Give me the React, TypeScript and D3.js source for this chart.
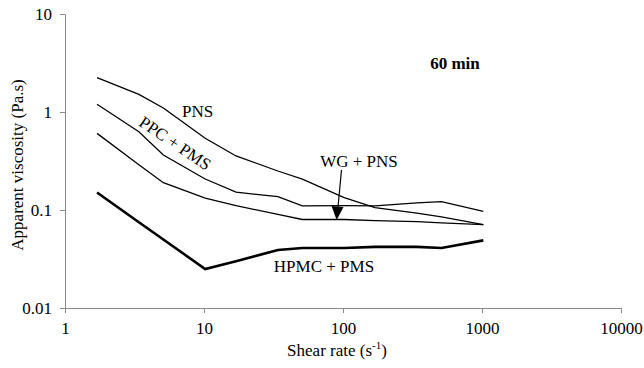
import { useEffect, useRef } from "react";
import * as d3 from "d3";

const width = 644;
const height = 368;
const margin = { top: 14, right: 23, bottom: 60, left: 65 };
const font = '"Liberation Serif", "Times New Roman", serif';

// shear rate (s-1)
const shearRates = [1.7, 3.4, 5.1, 10.2, 17, 34, 51, 102, 170, 340, 511, 1022];

// apparent viscosity (Pa.s) at 60 min
const pnsValues = [2.24, 1.51, 1.1, 0.54, 0.356, 0.25, 0.207, 0.134, 0.106, 0.093, 0.085, 0.071];
const ppcPmsValues = [1.2, 0.63, 0.364, 0.207, 0.152, 0.137, 0.11, 0.111, 0.11, 0.118, 0.122, 0.097];
const wgPnsValues = [0.605, 0.29, 0.19, 0.132, 0.111, 0.09, 0.08, 0.08, 0.078, 0.076, 0.074, 0.071];
const hpmcPmsValues = [0.151, 0.075, 0.05, 0.025, 0.03, 0.039, 0.041, 0.041, 0.042, 0.042, 0.041, 0.049];

const xTicks = [1, 10, 100, 1000, 10000];
const yTicks = [0.01, 0.1, 1, 10];

const series = [
  { name: "PNS", values: pnsValues, strokeWidth: 1.3 },
  { name: "PPC + PMS", values: ppcPmsValues, strokeWidth: 1.3 },
  { name: "WG + PNS", values: wgPnsValues, strokeWidth: 1.3 },
  { name: "HPMC + PMS", values: hpmcPmsValues, strokeWidth: 2.6 },
];

export default function App() {
  const svgRef = useRef<SVGSVGElement | null>(null);

  useEffect(() => {
    if (!svgRef.current) return;

    const svg = d3.select(svgRef.current);

    const x = d3
      .scaleLog()
      .domain([1, 10000])
      .range([margin.left, width - margin.right]);

    const y = d3
      .scaleLog()
      .domain([0.01, 10])
      .range([height - margin.bottom, margin.top]);

    // x 軸
    svg
      .select<SVGGElement>(".x-axis")
      .attr("transform", `translate(0, ${height - margin.bottom})`)
      .call(
        d3
          .axisBottom(x)
          .tickValues(xTicks)
          .tickFormat((d) => String(d))
          .tickSizeInner(5)
          .tickSizeOuter(0)
          .tickPadding(9),
      );

    // y 軸
    svg
      .select<SVGGElement>(".y-axis")
      .attr("transform", `translate(${margin.left}, 0)`)
      .call(
        d3
          .axisLeft(y)
          .tickValues(yTicks)
          .tickFormat((d) => String(d))
          .tickSizeInner(5)
          .tickSizeOuter(0)
          .tickPadding(8),
      );

    svg.selectAll(".x-axis path, .y-axis path, .x-axis line, .y-axis line").attr("stroke", "#8a8a8a");

    svg
      .selectAll(".x-axis text, .y-axis text")
      .attr("fill", "#000")
      .style("font-family", font)
      .style("font-size", "17px");

    const line = d3
      .line<number>()
      .x((_, i) => x(shearRates[i]))
      .y((d) => y(d));

    svg
      .select<SVGGElement>(".lines")
      .selectAll("path")
      .data(series)
      .join("path")
      .attr("fill", "none")
      .attr("stroke", "#000")
      .attr("stroke-width", (d) => d.strokeWidth)
      .attr("stroke-linejoin", "miter")
      .attr("d", (d) => line(d.values));
  }, []);

  const labelStyle = { fontFamily: font, fontSize: 17 };

  return (
    <svg
      ref={svgRef}
      width={width}
      height={height}
      viewBox={`0 0 ${width} ${height}`}
      style={{ position: "absolute", left: 0, top: 0, background: "#fff" }}
    >
      <g className="x-axis" />
      <g className="y-axis" />
      <g className="lines" />

      {/* series labels */}
      <text x={182} y={117} style={labelStyle}>
        PNS
      </text>
      <text
        transform="translate(172, 148) rotate(34)"
        textAnchor="middle"
        style={labelStyle}
      >
        PPC + PMS
      </text>
      <text x={359} y={167} textAnchor="middle" style={labelStyle}>
        WG + PNS
      </text>
      <text x={324} y={272} textAnchor="middle" style={labelStyle}>
        HPMC + PMS
      </text>

      {/* arrow to WG + PNS */}
      <line x1={341.5} y1={170} x2={338} y2={207} stroke="#000" strokeWidth={1.2} />
      <path d="M331.5,206 L343.5,207 L336.7,220 Z" fill="#000" />

      <text x={455} y={69} textAnchor="middle" style={{ ...labelStyle, fontWeight: 700 }}>
        60 min
      </text>

      {/* axis titles */}
      <text x={337} y={356} textAnchor="middle" style={labelStyle}>
        Shear rate (s
        <tspan fontSize={11} dy={-7}>
          -1
        </tspan>
        <tspan dy={7}>)</tspan>
      </text>
      <text
        transform="translate(23, 165) rotate(-90)"
        textAnchor="middle"
        style={labelStyle}
      >
        Apparent viscosity (Pa.s)
      </text>
    </svg>
  );
}
